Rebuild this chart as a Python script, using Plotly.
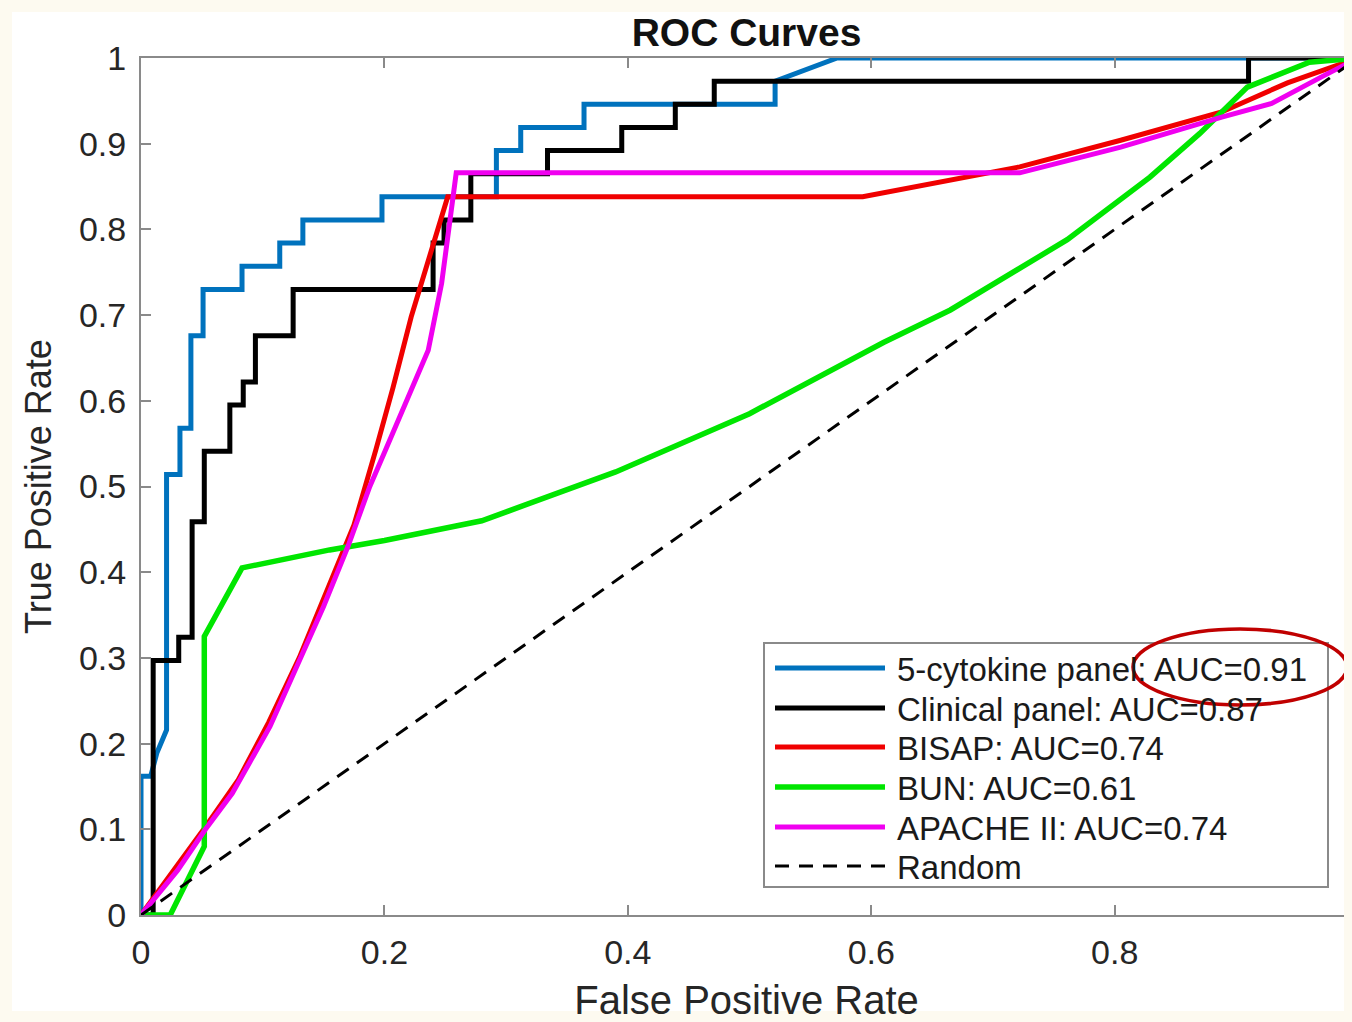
import plotly.graph_objects as go

# ---------------- data ----------------
cyto_fpr = [0, 0, 0.008, 0.013, 0.021, 0.021, 0.032, 0.032, 0.041, 0.041, 0.051, 0.051,
            0.083, 0.083, 0.114, 0.114, 0.133, 0.133, 0.198, 0.198, 0.292, 0.292, 0.312,
            0.312, 0.364, 0.364, 0.521, 0.521, 0.572, 1.0]
cyto_tpr = [0, 0.162, 0.162, 0.189, 0.216, 0.514, 0.514, 0.568, 0.568, 0.676, 0.676, 0.730,
            0.730, 0.757, 0.757, 0.784, 0.784, 0.811, 0.811, 0.838, 0.838, 0.892, 0.892,
            0.919, 0.919, 0.946, 0.946, 0.973, 1.0, 1.0]

clin_fpr = [0, 0.010, 0.010, 0.031, 0.031, 0.042, 0.042, 0.052, 0.052, 0.073, 0.073, 0.084,
            0.084, 0.094, 0.094, 0.125, 0.125, 0.240, 0.240, 0.249, 0.249, 0.271, 0.271,
            0.334, 0.334, 0.395, 0.395, 0.439, 0.439, 0.471, 0.471, 0.910, 0.910, 1.0]
clin_tpr = [0, 0, 0.297, 0.297, 0.324, 0.324, 0.459, 0.459, 0.541, 0.541, 0.595, 0.595,
            0.622, 0.622, 0.676, 0.676, 0.730, 0.730, 0.784, 0.784, 0.811, 0.811, 0.865,
            0.865, 0.892, 0.892, 0.919, 0.919, 0.946, 0.946, 0.973, 0.973, 1.0, 1.0]

bisap_fpr = [0, 0.030, 0.053, 0.080, 0.105, 0.130, 0.155, 0.175, 0.193, 0.207, 0.222, 0.237,
             0.252, 0.593, 0.722, 0.805, 0.888, 0.942, 1.0]
bisap_tpr = [0, 0.058, 0.103, 0.158, 0.225, 0.300, 0.385, 0.455, 0.543, 0.615, 0.698, 0.770,
             0.838, 0.838, 0.873, 0.904, 0.937, 0.971, 1.0]

bun_fpr = [0, 0.024, 0.052, 0.052, 0.083, 0.155, 0.200, 0.280, 0.390, 0.500, 0.610, 0.665,
           0.761, 0.829, 0.870, 0.909, 0.960, 1.0]
bun_tpr = [0, 0, 0.080, 0.325, 0.405, 0.426, 0.437, 0.460, 0.517, 0.585, 0.668, 0.706,
           0.788, 0.861, 0.912, 0.966, 0.995, 1.0]

apache_fpr = [0, 0.030, 0.053, 0.075, 0.106, 0.128, 0.150, 0.170, 0.188, 0.201, 0.218, 0.236,
              0.247, 0.259, 0.722, 0.805, 0.888, 0.929, 0.970, 1.0]
apache_tpr = [0, 0.052, 0.100, 0.142, 0.220, 0.290, 0.360, 0.430, 0.500, 0.543, 0.600, 0.659,
              0.737, 0.866, 0.866, 0.896, 0.931, 0.947, 0.978, 1.0]

random_fpr = [0, 1]
random_tpr = [0, 1]

series_names = ["5-cytokine panel: AUC=0.91", "Clinical panel: AUC=0.87", "BISAP: AUC=0.74",
                "BUN: AUC=0.61", "APACHE II: AUC=0.74", "Random"]
series_x = [cyto_fpr, clin_fpr, bisap_fpr, bun_fpr, apache_fpr, random_fpr]
series_y = [cyto_tpr, clin_tpr, bisap_tpr, bun_tpr, apache_tpr, random_tpr]
series_colors = ["#0072BD", "#000000", "#F00000", "#00E600", "#F000F0", "#000000"]
series_dash = ["solid", "solid", "solid", "solid", "solid", "14px,10px"]
series_width = [5, 5, 5, 5.5, 5, 3]

x_ticks = [0, 0.2, 0.4, 0.6, 0.8, 1]
y_ticks = [0, 0.1, 0.2, 0.3, 0.4, 0.5, 0.6, 0.7, 0.8, 0.9, 1]

# ---------------- layout geometry ----------------
# the page body has an 8px margin, so figure coordinates are page coordinates minus 8
OFF = 8
W, H = 1352 - OFF, 1022 - OFF
L, R, T, B = 141 - OFF, 1352 - OFF, 58 - OFF, 915 - OFF   # plot area in figure pixels
X_MAX = 0.995   # the original picture is cropped just before x = 1


def px(x):
    """page pixel x -> paper coordinate"""
    return (x - OFF - L) / (R - L)


def py(y):
    """page pixel y -> paper coordinate"""
    return (B - (y - OFF)) / (B - T)


FONT = "Liberation Sans, Arial, Helvetica, sans-serif"

fig = go.Figure()
for name, xs, ys, c, d, w in zip(series_names, series_x, series_y, series_colors,
                                 series_dash, series_width):
    fig.add_trace(go.Scatter(x=xs, y=ys, mode="lines", name=name, showlegend=False,
                             line=dict(color=c, width=w, dash=d), hoverinfo="name"))

shapes = []
annotations = []

# white inner area inside the cream frame
shapes.append(dict(type="rect", xref="paper", yref="paper", layer="below",
                   x0=px(12), x1=px(1380), y0=py(1011), y1=py(12),
                   fillcolor="white", line=dict(width=0)))

# custom MATLAB-style legend
shapes.append(dict(type="rect", xref="paper", yref="paper",
                   x0=px(764), x1=px(1328), y0=py(887), y1=py(643),
                   fillcolor="white", line=dict(color="#8a8a8a", width=2)))
row_y = [668, 708, 747, 787, 827, 866]
for name, c, d, w, ry in zip(series_names, series_colors, series_dash, series_width, row_y):
    shapes.append(dict(type="line", xref="paper", yref="paper",
                       x0=px(775), x1=px(885), y0=py(ry), y1=py(ry),
                       line=dict(color=c, width=w, dash=d)))
    annotations.append(dict(text=name, xref="paper", yref="paper", x=px(895), y=py(ry + 1),
                            xanchor="left", yanchor="middle", showarrow=False,
                            font=dict(family=FONT, size=33, color="#1a1a1a")))

# red ellipse highlight
shapes.append(dict(type="circle", xref="paper", yref="paper",
                   x0=px(1133), x1=px(1347), y0=py(705), y1=py(629),
                   line=dict(color="#C00000", width=3.5)))

axis_common = dict(showline=True, linecolor="#8a8a8a", linewidth=2, mirror=False,
                   ticks="inside", ticklen=10, tickwidth=1.5, tickcolor="#8a8a8a",
                   showgrid=False, zeroline=False,
                   tickfont=dict(family=FONT, size=34, color="#262626"))

fig.update_layout(
    width=W, height=H,
    margin=dict(l=L, r=W - R, t=T, b=H - B),
    paper_bgcolor="#FDFAF0", plot_bgcolor="white",
    showlegend=False,
    title=dict(text="<b>ROC Curves</b>", x=0.5, xref="paper", y=1 - (32 - OFF) / H,
               yanchor="middle", xanchor="center",
               font=dict(family=FONT, size=39, color="#111111")),
    xaxis=dict(range=[0, X_MAX], tickvals=x_ticks, ticktext=[f"{v:g}" for v in x_ticks],
               title=dict(text="False Positive Rate", standoff=16,
                          font=dict(family=FONT, size=40, color="#262626")),
               ticklabelstandoff=6, **axis_common),
    yaxis=dict(range=[0, 1], tickvals=y_ticks, ticktext=[f"{v:g}" for v in y_ticks],
               title=dict(text="True Positive Rate", standoff=16,
                          font=dict(family=FONT, size=36, color="#262626")),
               ticklabelstandoff=6, **axis_common),
    shapes=shapes,
    annotations=annotations,
)

# top border (MATLAB box) with mirrored ticks
fig.update_xaxes(mirror="ticks")

fig.write_html("out.html",
               post_script="document.body.style.background='#FDFAF0';")
